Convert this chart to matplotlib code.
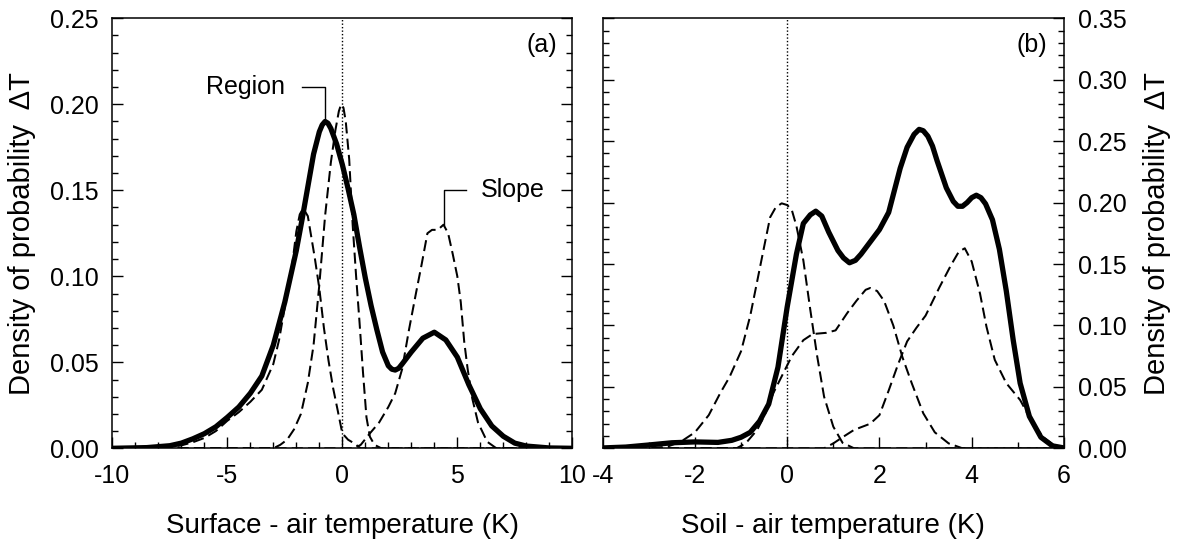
import matplotlib.pyplot as plt
from matplotlib.ticker import MultipleLocator, FormatStrFormatter

plt.rcParams['font.family'] = ['Liberation Sans', 'DejaVu Sans']
plt.rcParams['axes.unicode_minus'] = False

# (a) surface - air temperature, regional curve and slope curves
reg_a_x = [-10, -8.5, -7.5, -7, -6.5, -6, -5.5, -5, -4.5, -4, -3.5, -3, -2.5, -2, -1.75,
           -1.5, -1.25, -1, -0.875, -0.75, -0.625, -0.5, -0.25, 0, 0.25, 0.5, 0.75, 1,
           1.25, 1.5, 1.75, 2, 2.15, 2.3, 2.45, 2.6, 3, 3.5, 4, 4.5, 5, 5.5, 6, 6.5, 7,
           7.5, 8, 9, 10]
reg_a_y = [0, 0.0004, 0.0015, 0.003, 0.0055, 0.0085, 0.0125, 0.018, 0.024, 0.032, 0.042,
           0.060, 0.085, 0.115, 0.133, 0.152, 0.171, 0.184, 0.188, 0.190, 0.189, 0.186,
           0.177, 0.165, 0.151, 0.136, 0.117, 0.099, 0.083, 0.069, 0.056, 0.048, 0.046,
           0.0455, 0.0465, 0.049, 0.056, 0.064, 0.0675, 0.063, 0.053, 0.037, 0.023, 0.013,
           0.007, 0.003, 0.0013, 0.0002, 0]

sl1_a_x = [-10, -7.5, -7, -6.5, -6, -5.5, -5, -4.5, -4, -3.5, -3, -2.75, -2.5, -2.25, -2,
           -1.85, -1.7, -1.5, -1.35, -1.2, -1, -0.8, -0.6, -0.4, -0.2, 0, 0.25, 0.5, 0.8, 10]
sl1_a_y = [0, 0.0008, 0.0017, 0.0035, 0.006, 0.010, 0.016, 0.021, 0.027, 0.034, 0.049,
           0.063, 0.082, 0.099, 0.126, 0.136, 0.1395, 0.135, 0.123, 0.111, 0.093, 0.070,
           0.051, 0.035, 0.022, 0.0087, 0.005, 0.003, 0, 0]

sl2_a_x = [-10, -3, -2.7, -2.4, -2.1, -1.8, -1.5, -1.25, -1, -0.75, -0.5, -0.3, -0.15,
           -0.05, 0.05, 0.15, 0.3, 0.45, 0.6, 0.75, 0.9, 1.05, 1.2, 1.4, 1.7, 10]
sl2_a_y = [0, 0, 0.002, 0.005, 0.011, 0.02, 0.038, 0.06, 0.095, 0.135, 0.166, 0.185,
           0.196, 0.2, 0.198, 0.19, 0.168, 0.13, 0.1, 0.073, 0.044, 0.018, 0.0067, 0.002, 0, 0]

sl3_a_x = [-10, 0.5, 0.8, 1.2, 1.6, 2.0, 2.3, 2.6, 2.9, 3.2, 3.45, 3.7, 3.9, 4.15, 4.4,
           4.6, 4.8, 5.0, 5.15, 5.3, 5.45, 5.65, 5.9, 6.3, 6.7, 10]
sl3_a_y = [0, 0, 0.002, 0.0087, 0.015, 0.024, 0.032, 0.046, 0.069, 0.09, 0.107, 0.125,
           0.127, 0.127, 0.13, 0.125, 0.113, 0.1, 0.085, 0.062, 0.046, 0.029, 0.015,
           0.0038, 0, 0]

# (b) soil - air temperature
reg_b_x = [-4, -3.5, -3, -2.5, -2, -1.5, -1.2, -1, -0.8, -0.6, -0.4, -0.2, 0, 0.2, 0.35,
           0.5, 0.62, 0.75, 0.9, 1.1, 1.22, 1.35, 1.48, 1.6, 1.8, 2.0, 2.2, 2.45, 2.6,
           2.75, 2.86, 2.95, 3.05, 3.15, 3.25, 3.45, 3.6, 3.7, 3.8, 3.9, 4.0, 4.1, 4.2,
           4.3, 4.45, 4.6, 4.75, 4.9, 5.05, 5.25, 5.5, 5.75, 6]
reg_b_y = [0.0003, 0.001, 0.0027, 0.0045, 0.0052, 0.0048, 0.0065, 0.009, 0.013, 0.022,
           0.036, 0.066, 0.115, 0.158, 0.183, 0.19, 0.193, 0.189, 0.176, 0.161, 0.155,
           0.151, 0.153, 0.158, 0.168, 0.178, 0.192, 0.228, 0.245, 0.2555, 0.2596, 0.2585,
           0.254, 0.246, 0.234, 0.212, 0.201, 0.197, 0.197, 0.2, 0.204, 0.206, 0.204,
           0.199, 0.186, 0.162, 0.128, 0.088, 0.053, 0.026, 0.009, 0.002, 0.0003]

sl1_b_x = [-4, -3, -2.6, -2.3, -2.0, -1.7, -1.45, -1.25, -1.0, -0.8, -0.65, -0.5, -0.37,
           -0.25, -0.12, 0.0, 0.1, 0.2, 0.35, 0.5, 0.65, 0.8, 1.0, 1.2, 1.45, 6]
sl1_b_y = [0, 0, 0.0013, 0.0055, 0.013, 0.027, 0.045, 0.058, 0.079, 0.108, 0.136, 0.164,
           0.188, 0.196, 0.1994, 0.198, 0.194, 0.181, 0.153, 0.113, 0.075, 0.042, 0.0176,
           0.0045, 0, 0]

sl2_b_x = [-4, -1.1, -0.9, -0.65, -0.5, -0.3, -0.1, 0.1, 0.35, 0.55, 0.85, 1.05, 1.3, 1.5,
           1.7, 1.8, 1.95, 2.1, 2.3, 2.5, 2.7, 2.95, 3.2, 3.5, 3.8, 6]
sl2_b_y = [0, 0, 0.004, 0.015, 0.026, 0.045, 0.06, 0.075, 0.088, 0.093, 0.094, 0.096,
           0.11, 0.12, 0.129, 0.1305, 0.128, 0.12, 0.1, 0.074, 0.053, 0.0285, 0.013,
           0.004, 0, 0]

sl3_b_x = [-4, 0.8, 1.0, 1.2, 1.45, 1.8, 2.0, 2.2, 2.4, 2.6, 2.8, 3.0, 3.3, 3.55, 3.72,
           3.85, 4.0, 4.18, 4.32, 4.5, 4.75, 5.05, 5.3, 5.55, 5.8, 6]
sl3_b_y = [0, 0, 0.004, 0.009, 0.015, 0.02, 0.027, 0.047, 0.068, 0.087, 0.098, 0.108,
           0.131, 0.149, 0.16, 0.1628, 0.152, 0.126, 0.099, 0.072, 0.053, 0.0393, 0.022,
           0.009, 0.002, 0]

FS = 18
FS_LAB = 20
solid = dict(color='black', lw=3.8, solid_capstyle='round', solid_joinstyle='round')
dashed = dict(color='black', lw=1.45, dashes=(5.5, 2.6))

fig = plt.figure(figsize=(11.81, 5.43), dpi=100)
ax1 = fig.add_axes([0.0951, 0.1744, 0.3895, 0.7919])
ax2 = fig.add_axes([0.5103, 0.1744, 0.3906, 0.7919])

for ax in (ax1, ax2):
    ax.axvline(0, color='black', lw=1.0, ls=(0, (1, 1.5)), zorder=1)
    for s in ax.spines.values():
        s.set_linewidth(1.1)
    ax.tick_params(which='both', direction='in', top=False, right=True, left=True,
                   width=1.0, labelsize=FS)
    ax.tick_params(which='major', length=8)
    ax.tick_params(which='minor', length=4.3)
    ax.tick_params(axis='x', pad=11)
    ax.tick_params(axis='y', pad=10)
    ax.yaxis.set_minor_locator(MultipleLocator(0.01))
    ax.xaxis.set_minor_locator(MultipleLocator(1))
    ax.yaxis.set_major_formatter(FormatStrFormatter('%.2f'))

# panel (a)
for xs, ys in [(sl1_a_x, sl1_a_y), (sl2_a_x, sl2_a_y), (sl3_a_x, sl3_a_y)]:
    ax1.plot(xs, ys, **dashed)
ax1.plot(reg_a_x, reg_a_y, **solid)
ax1.set_xlim(-10, 10)
ax1.set_ylim(0, 0.25)
ax1.xaxis.set_major_locator(MultipleLocator(5))
ax1.yaxis.set_major_locator(MultipleLocator(0.05))
ax1.set_xlabel('Surface - air temperature (K)', fontsize=FS_LAB, labelpad=18)
ax1.set_ylabel('Density of probability  ΔT', fontsize=21, labelpad=10)
ax1.text(8.66, 0.2346, '(a)', fontsize=FS, ha='center', va='center')

# leader lines to the peaks
i = reg_a_y.index(max(reg_a_y))
ax1.plot([-1.77, reg_a_x[i], reg_a_x[i]], [0.21, 0.21, reg_a_y[i]], color='black', lw=1.0)
ax1.text(-4.23, 0.21, 'Region', fontsize=FS, ha='center', va='center')
j = sl3_a_y.index(max(sl3_a_y))
ax1.plot([5.38, sl3_a_x[j], sl3_a_x[j]], [0.15, 0.15, sl3_a_y[j]], color='black', lw=1.0)
ax1.text(7.43, 0.15, 'Slope', fontsize=FS, ha='center', va='center')

# panel (b)
for xs, ys in [(sl1_b_x, sl1_b_y), (sl2_b_x, sl2_b_y), (sl3_b_x, sl3_b_y)]:
    ax2.plot(xs, ys, **dashed)
ax2.plot(reg_b_x, reg_b_y, **solid)
ax2.set_xlim(-4, 6)
ax2.set_ylim(0, 0.35)
ax2.xaxis.set_major_locator(MultipleLocator(2))
ax2.yaxis.set_major_locator(MultipleLocator(0.05))
ax2.tick_params(axis='y', labelleft=False, labelright=True)
ax2.yaxis.set_label_position('right')
ax2.set_xlabel('Soil - air temperature (K)', fontsize=FS_LAB, labelpad=18)
ax2.set_ylabel('Density of probability  ΔT', fontsize=21, labelpad=12)
ax2.text(5.31, 0.328, '(b)', fontsize=FS, ha='center', va='center')

fig.savefig('out.png', dpi=100)
